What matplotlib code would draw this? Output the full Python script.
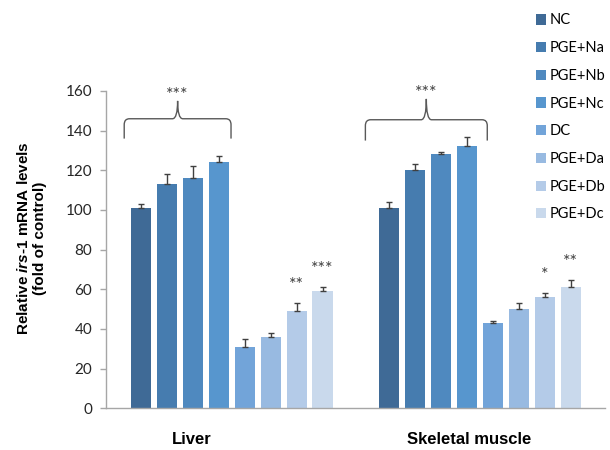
import matplotlib
matplotlib.use("Agg")
import matplotlib.pyplot as plt
from matplotlib.path import Path
from matplotlib.patches import PathPatch

# data
treatments = ['NC', 'PGE+Na', 'PGE+Nb', 'PGE+Nc', 'DC', 'PGE+Da', 'PGE+Db', 'PGE+Dc']
tissues = ['Liver', 'Skeletal muscle']
liver_mean = [101, 113, 116, 124, 31, 36, 49, 59]
liver_err = [2, 5, 6, 3, 4, 2, 4, 2]
muscle_mean = [101, 120, 128, 132.5, 43, 50, 56, 61]
muscle_err = [3, 3, 1, 4.5, 1, 3, 2, 3.7]
liver_stars = ['', '', '', '', '', '', '**', '***']
muscle_stars = ['', '', '', '', '', '', '*', '**']
bracket_text = '***'

colors = ['#3F6A96', '#467CAF', '#4F89BF', '#5796CE', '#72A4D9', '#98BAE1', '#B4CBE8', '#C9D9EC']

plt.rcParams['mathtext.fontset'] = 'custom'
plt.rcParams['mathtext.it'] = 'Liberation Sans:italic:bold'
plt.rcParams['mathtext.rm'] = 'Liberation Sans:bold'

fig = plt.figure(figsize=(6.1, 4.5), dpi=100)
ax = fig.add_axes([0.1738, 0.0927, 0.818, 0.7051])

centers = [0, 9.56]
width = 0.77
tick_font = 'Lato'

for i, t in enumerate(treatments):
    xs = [c + i - 3.5 for c in centers]
    ax.bar(xs, [liver_mean[i], muscle_mean[i]], width, color=colors[i], label=t,
           yerr=[[0, 0], [liver_err[i], muscle_err[i]]],
           error_kw=dict(ecolor='#404040', elinewidth=1, capsize=2.5, capthick=1))

# significance stars above the D groups
for c, means, errs, stars in [(centers[0], liver_mean, liver_err, liver_stars),
                              (centers[1], muscle_mean, muscle_err, muscle_stars)]:
    for i, s in enumerate(stars):
        if s:
            ax.text(c + i - 3.5, means[i] + errs[i] + 9, s, ha='center', va='center',
                    fontsize=13, color='#404040', family=tick_font)


def brace(x0, x1, y_end, y_h, y_tip):
    xm = (x0 + x1) / 2
    rx, ry = 0.2, 3
    verts = [(x0, y_end), (x0, y_h - ry), (x0, y_h), (x0 + rx, y_h),
             (xm - rx, y_h), (xm, y_h), (xm, y_tip),
             (xm, y_h), (xm + rx, y_h),
             (x1 - rx, y_h), (x1, y_h), (x1, y_h - ry), (x1, y_end)]
    codes = [Path.MOVETO, Path.LINETO, Path.CURVE3, Path.CURVE3,
             Path.LINETO, Path.CURVE3, Path.CURVE3,
             Path.CURVE3, Path.CURVE3,
             Path.LINETO, Path.CURVE3, Path.CURVE3, Path.LINETO]
    ax.add_patch(PathPatch(Path(verts, codes), fill=False, edgecolor='#595959',
                           lw=1, clip_on=False))
    ax.text(xm, y_tip + 3, bracket_text, ha='center', va='center', fontsize=13,
            color='#404040', family=tick_font, clip_on=False)


brace(centers[0] - 4.13, centers[0] - 0.02, 136, 146, 155)
brace(centers[1] - 4.41, centers[1] + 0.28, 135, 145.5, 156)

ax.set_xlim(-4.83, 14.37)
ax.set_ylim(0, 160)
ax.set_yticks(range(0, 161, 20))
ax.set_xticks([centers[0] - 1.55, centers[1] - 0.4])
ax.set_xticklabels(tissues, fontsize=12, fontweight='bold', family='Liberation Sans')
ax.tick_params(axis='x', length=0, pad=17)
ax.tick_params(axis='y', length=4, width=1, color='#A6A6A6', pad=6, labelsize=11)
for lab in ax.get_yticklabels():
    lab.set_family(tick_font)
    lab.set_color('#262626')

for side in ['top', 'right']:
    ax.spines[side].set_visible(False)
for side in ['left', 'bottom']:
    ax.spines[side].set_color('#A6A6A6')
    ax.spines[side].set_linewidth(1)

fig.text(0.051, 0.471, 'Relative $\\mathit{irs}$-$\\mathit{1}$ mRNA levels\n(fold of control)',
         rotation=90, ha='center', va='center', fontsize=11, fontweight='bold',
         family='Liberation Sans', linespacing=1.2)

fig.legend(loc='upper left', bbox_to_anchor=(0.879, 0.97), frameon=False,
           borderpad=0, borderaxespad=0, handlelength=0.7, handleheight=0.7,
           handletextpad=0.2, labelspacing=0.94, prop=dict(family=tick_font, size=10.5))

fig.savefig('out.png', dpi=100)
